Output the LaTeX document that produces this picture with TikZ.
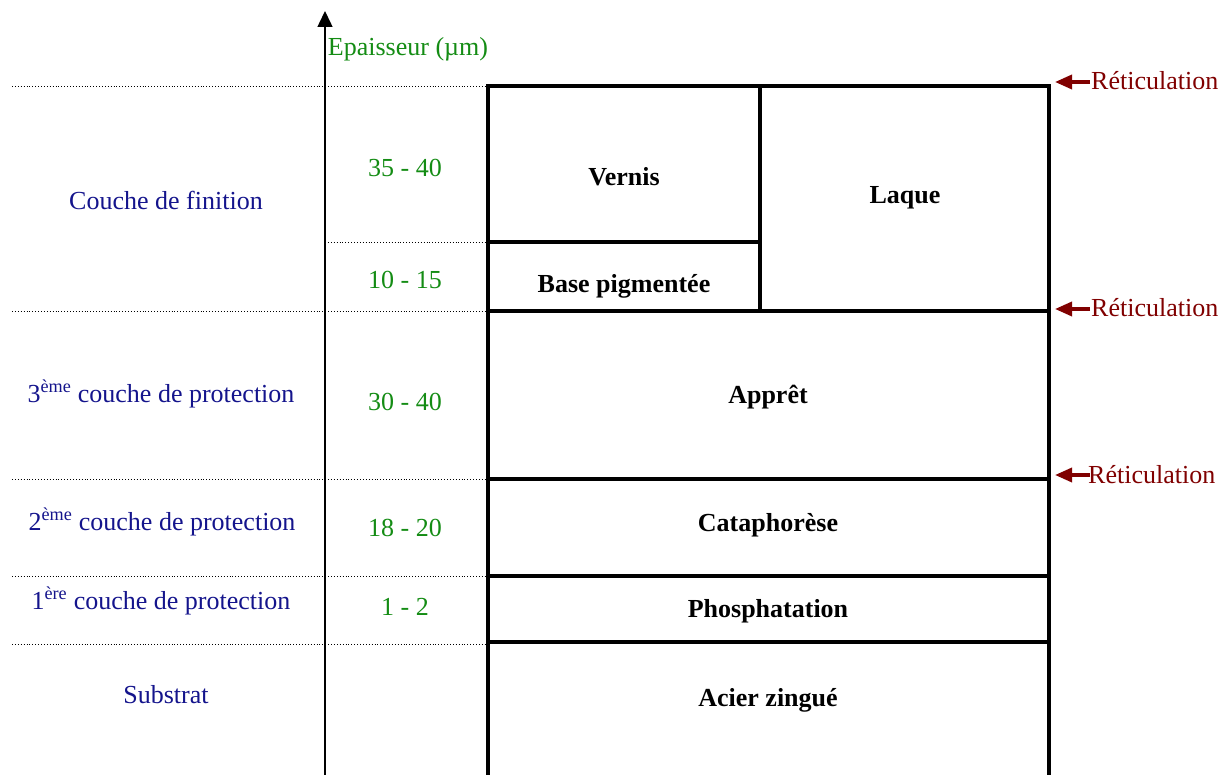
\documentclass[tikz,border=0pt]{standalone}
\usepackage{fontspec}
\setmainfont{Liberation Serif}
\usetikzlibrary{arrows.meta}
\definecolor{lblue}{RGB}{20,20,140}
\definecolor{lgreen}{RGB}{20,140,20}
\definecolor{lred}{RGB}{128,0,0}
\begin{document}
\begin{tikzpicture}[x=1pt,y=-1pt,
  every node/.style={inner sep=0pt,font=\fontsize{26}{30}\selectfont},
  layer/.style={anchor=base,font=\fontsize{26}{30}\selectfont\bfseries},
  thick/.style={anchor=base,text=lgreen},
  cat/.style={anchor=base,text=lblue},
  ret/.style={anchor=base west,text=lred},
  wall/.style={line width=4.5pt,line cap=rect},
  guide/.style={dotted,line width=0.9pt},
  retarrow/.style={draw=lred,line width=3.5pt,-{Triangle[length=17pt,width=14pt]}}]
\useasboundingbox (0,0) rectangle (1231,775);
% guides
\draw[guide] (12,86) -- (488,86);
\draw[guide] (325,242) -- (488,242);
\draw[guide] (12,311) -- (488,311);
\draw[guide] (12,479) -- (488,479);
\draw[guide] (12,576) -- (488,576);
\draw[guide] (12,644) -- (488,644);
% axis
\coordinate (axb) at (325,775);
\coordinate (axt) at (325,11);
\draw[line width=1.5pt,-{Triangle[length=16pt,width=15pt]}] (axb) -- (axt);
% box
\draw[wall] (488,775) -- (488,86) -- (1049,86) -- (1049,775);
\draw[wall] (760,86) -- (760,311);
\draw[wall] (488,242) -- (760,242);
\draw[wall] (488,311) -- (1049,311);
\draw[wall] (488,479) -- (1049,479);
\draw[wall] (488,576) -- (1049,576);
\draw[wall] (488,642) -- (1049,642);
% layer labels
\node[layer] (vernis) at (624,186) {Vernis};
\node[layer] (laque) at (905,204) {Laque};
\node[layer] (base) at (624,293) {Base pigmentée};
\node[layer] (appret) at (768,403) {Apprêt};
\node[layer] (cata) at (768,531) {Cataphorèse};
\node[layer] (phos) at (768,617) {Phosphatation};
\node[layer] (acier) at (768,706) {Acier zingué};
% thickness
\node[thick] (ep) at (408,56) {Epaisseur (µm)};
\node[thick] (t1) at (405,177) {35 - 40};
\node[thick] (t2) at (405,289) {10 - 15};
\node[thick] (t3) at (405,410) {30 - 40};
\node[thick] (t4) at (405,536) {18 - 20};
\node[thick] (t5) at (405,615) {1 - 2};
% categories
\node[cat] (c1) at (166,210) {Couche de finition};
\node[cat] (c2) at (161,402) {3\textsuperscript{ème} couche de protection};
\node[cat] (c3) at (162,530) {2\textsuperscript{ème} couche de protection};
\node[cat] (c4) at (161,609) {1\textsuperscript{ère} couche de protection};
\node[cat] (c5) at (166,703) {Substrat};
% reticulation
\node[ret] (r1) at (1091,90) {Réticulation};
\node[ret] (r2) at (1091,317) {Réticulation};
\node[ret] (r3) at (1088,483) {Réticulation};
\coordinate (r1t) at (1055,82);
\coordinate (r2t) at (1055,309);
\coordinate (r3t) at (1055,475);
\draw[retarrow] (1090,82) -- (r1t);
\draw[retarrow] (1090,309) -- (r2t);
\draw[retarrow] (1090,475) -- (r3t);
\end{tikzpicture}
\end{document}
